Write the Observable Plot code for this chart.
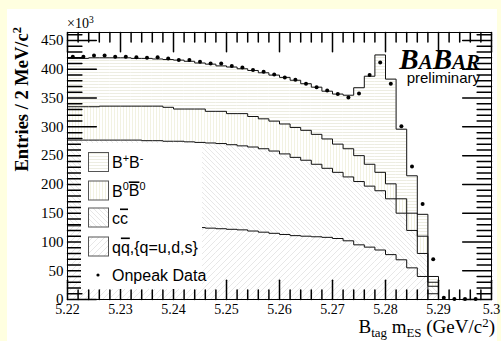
<!DOCTYPE html>
<html><head><meta charset="utf-8">
<script src="https://cdn.jsdelivr.net/npm/d3@7"></script>
<script src="https://cdn.jsdelivr.net/npm/@observablehq/plot@0.6"></script>
<style>
html,body{margin:0;padding:0;background:#ffffe0;}
#wrap{position:relative;width:501px;height:341px;overflow:hidden;}
#paper{position:absolute;left:7px;top:9px;width:490px;height:332px;background:#fff;}
#chart{position:absolute;left:0;top:0;}
</style></head><body><div id="wrap"><div id="paper"></div><div id="chart"></div></div>
<script>
// ---- data (2 MeV bins, lower edges) ----
const binLow = [5.220,5.222,5.224,5.226,5.228,5.230,5.232,5.234,5.236,5.238,
                5.240,5.242,5.244,5.246,5.248,5.250,5.252,5.254,5.256,5.258,
                5.260,5.262,5.264,5.266,5.268,5.270,5.272,5.274,5.276,5.278,
                5.280,5.282,5.284,5.286,5.288,5.290,5.292,5.294,5.296,5.298];
const xEnd = 5.30;
const qqbar = [128,128,128,127,127,127,127,126,126,126, 126,126,125,124,123,122,121,119,117,115,
               113,111,110,109,108,106,102,95,91,86, 78,69,55,40,10,0,0,0,0,0];
const ccbar = [149,149,149,150,150,150,150,150,150,149, 149,148,148,148,148,147,146,146,145,143,
               140,136,132,126,120,115,111,110,106,103, 97,81,65,40,13,0,0,0,0,0];
const b0b0 =  [58,58,58,59,59,59,59,60,60,59, 56,57,58,55,56,54,56,53,52,52,
               52,52,52,52,51,49,49,45,38,32, 26,25,30,30,7,0,0,0,0,0];
const bpbm =  [84,84,85,84,84,84,83,83,82,83, 85,83,80,82,79,81,78,80,80,80,
               81,82,81,82,83,87,93,118,153,204, 182,121,65,38,10,0,0,0,0,0];
const onpeak = [422,422,424,424,422,422,421,420,421,419, 416,416,413,410,410,406,403,399,396,391,
                386,382,375,369,363,357,351,358,390,412, 375,301,231,166,70,3,1,1,1,0];
const xTickValues = [5.22,5.23,5.24,5.25,5.26,5.27,5.28,5.29,5.30];
const xTickLabels = ["5.22","5.23","5.24","5.25","5.26","5.27","5.28","5.29","5.3"];
const yTickValues = [0,50,100,150,200,250,300,350,400,450];
const yTickLabels = ["0","50","100","150","200","250","300","350","400","450"];
const yMax = 464;

// ---- build stacks ----
const binHigh = binLow.slice(1).concat([xEnd]);
const layers = [["qq", qqbar], ["cc", ccbar], ["b0", b0b0], ["bpm", bpbm]];
const cum = [];
let base = binLow.map(() => 0);
const bands = {};
for (const [k, arr] of layers) {
  const top = base.map((b, i) => b + arr[i]);
  bands[k] = binLow.map((x, i) => ({x1: x, x2: binHigh[i], y1: base[i], y2: top[i]}));
  cum.push(top);
  base = top;
}
const stepPts = (arr) => binLow.map((x, i) => ({x, y: arr[i]})).concat([{x: xEnd, y: arr[arr.length - 1]}]);

const xMinor = d3.range(0, 41).map(i => 5.22 + i * 0.002);
const yMinor = d3.range(0, 47).map(i => i * 10);
const tickShape = {draw(ctx, l) { ctx.moveTo(0, 0); ctx.lineTo(0, -l); }};
const isMajorX = d => Math.abs(Math.round(d * 100) - d * 100) < 1e-6;
const isMajorY = d => d % 50 === 0;
const tickLenX = d => isMajorX(d) ? 8 : 4;
const tickLenY = d => isMajorY(d) ? 12 : 6;

const xLab = new Map(xTickValues.map((v, i) => [v, xTickLabels[i]]));
const yLab = new Map(yTickValues.map((v, i) => [v, yTickLabels[i]]));

const plot = Plot.plot({
  width: 501, height: 341,
  marginLeft: 67, marginRight: 10, marginTop: 32, marginBottom: 42,
  style: {background: "transparent", fontFamily: "'Liberation Serif', serif", fontSize: "15px", color: "#000"},
  x: {domain: [5.22, 5.30], axis: null},
  y: {domain: [0, yMax], axis: null},
  marks: [
    Plot.rect(bands.qq, {x1: "x1", x2: "x2", y1: "y1", y2: "y2", fill: "url(#p_qq)"}),
    Plot.rect(bands.cc, {x1: "x1", x2: "x2", y1: "y1", y2: "y2", fill: "url(#p_cc)"}),
    Plot.rect(bands.b0, {x1: "x1", x2: "x2", y1: "y1", y2: "y2", fill: "url(#p_b0)"}),
    Plot.rect(bands.bpm, {x1: "x1", x2: "x2", y1: "y1", y2: "y2", fill: "url(#p_bpm)"}),
    ...cum.map(arr => Plot.line(stepPts(arr), {x: "x", y: "y", curve: "step-after", stroke: "#111", strokeWidth: 1})),
    Plot.dot(binLow.map((x, i) => ({x: (x + binHigh[i]) / 2, y: onpeak[i]})).filter(d => d.y > 0),
      {x: "x", y: "y", r: 2, fill: "#000", stroke: null}),
    Plot.frame({stroke: "#000", strokeWidth: 1}),
    // ticks (inward, all four sides)
    Plot.vector(xMinor, {x: d => d, y: () => 0, length: tickLenX, rotate: 0, anchor: "start", shape: tickShape, stroke: "#000"}),
    Plot.vector(xMinor, {x: d => d, y: () => yMax, length: tickLenX, rotate: 180, anchor: "start", shape: tickShape, stroke: "#000"}),
    Plot.vector(yMinor, {y: d => d, x: () => 5.22, length: tickLenY, rotate: 90, anchor: "start", shape: tickShape, stroke: "#000"}),
    Plot.vector(yMinor, {y: d => d, x: () => 5.30, length: tickLenY, rotate: 270, anchor: "start", shape: tickShape, stroke: "#000"}),
    Plot.axisX({ticks: xTickValues, tickFormat: d => xLab.get(d), tickSize: 0, tickPadding: 5, fontSize: 14, label: null}),
    Plot.axisY({ticks: yTickValues, tickFormat: d => yLab.get(d), tickSize: 0, tickPadding: 4, fontSize: 15, label: null})
  ]
});
document.getElementById("chart").appendChild(plot);

// ---- hatch patterns ----
const svg = d3.select(plot);
const defs = svg.insert("defs", ":first-child");
function pat(id, w, h, d, color, sw) {
  const p = defs.append("pattern").attr("id", id).attr("patternUnits", "userSpaceOnUse")
    .attr("width", w).attr("height", h);
  p.append("rect").attr("width", w).attr("height", h).attr("fill", "#fff");
  p.append("path").attr("d", d).attr("stroke", color).attr("stroke-width", sw).attr("fill", "none");
}
pat("p_bpm", 4, 3, "M0,0.5H4", "#ededE2", 1);
pat("p_b0", 3, 4, "M0.5,0V4", "#f2f2e2", 1);
pat("p_cc", 5, 5, "M0,0L5,5M-1,4L1,6M4,-1L6,1", "#dcdcdc", 0.7);
pat("p_qq", 6, 6, "M0,6L6,0M-1,1L1,-1M5,7L7,5", "#dcdcdc", 0.7);

// ---- rich text helper ----
function rich(g, x, y, parts, opts = {}) {
  const size = opts.size || 15;
  const supK = opts.supK || 0.38;
  const t = g.append("text").attr("x", x).attr("y", y)
    .attr("font-family", opts.family || "'Liberation Sans', sans-serif")
    .attr("font-size", size)
    .attr("text-anchor", opts.anchor || "start")
    .attr("fill", "#000");
  if (opts.weight) t.attr("font-weight", opts.weight);
  if (opts.style) t.attr("font-style", opts.style);
  if (opts.transform) t.attr("transform", opts.transform);
  for (const p of parts) {
    const s = t.append("tspan").text(p.t);
    if (p.sup) s.attr("dy", -size * supK).attr("font-size", size * 0.68);
    if (p.sub) s.attr("dy", size * 0.2).attr("font-size", size * 0.68);
    if (p.back) s.attr("dy", p.back);
    if (p.size) s.attr("font-size", p.size);
    if (p.over) s.style("text-decoration", "overline");
  }
  return t;
}
const g = svg.append("g");

// legend
const legendItems = [
  {pattern: "p_bpm", parts: [{t: "B"}, {t: "+", sup: true}, {t: "B", back: 6}, {t: "-", sup: true}]},
  {pattern: "p_b0", parts: [{t: "B"}, {t: "0", sup: true}, {t: "B", over: true, back: 6}, {t: "0", sup: true}]},
  {pattern: "p_cc", parts: [{t: "c"}, {t: "c", over: true}]},
  {pattern: "p_qq", parts: [{t: "q"}, {t: "q", over: true}, {t: ",{q=u,d,s}"}]},
  {dot: true, parts: [{t: "Onpeak Data"}]}
];
g.append("rect").attr("x", 81).attr("y", 143).attr("width", 121).attr("height", 146).attr("fill", "#fff");
const legY = [162, 190.5, 217.5, 246.5, 275];
legendItems.forEach((it, i) => {
  const cy = legY[i];
  if (it.dot) {
    g.append("circle").attr("cx", 98).attr("cy", cy).attr("r", 1.6).attr("fill", "#000");
  } else {
    g.append("rect").attr("x", 88.5).attr("y", cy - 9.5).attr("width", 20).attr("height", 19)
      .attr("fill", `url(#${it.pattern})`).attr("stroke", "#555").attr("stroke-width", 1);
  }
  rich(g, 112, cy + 6, it.parts, {size: 16});
});

// titles & annotations
rich(g, 67, 28, [{t: "×10"}, {t: "3", sup: true}], {family: "'Liberation Serif', serif", size: 14});
rich(g, 480, 69, [{t: "B", size: 29}, {t: "A", size: 21}, {t: "B", size: 29}, {t: "AR", size: 21}],
  {family: "'Liberation Serif', serif", size: 29, anchor: "end", style: "italic", weight: "bold"});
rich(g, 480, 83, [{t: "preliminary"}], {size: 15, anchor: "end"});
rich(g, 0, 0, [{t: "Entries / 2 MeV/c"}, {t: "2", sup: true}],
  {family: "'Liberation Serif', serif", size: 18.5, weight: "bold", anchor: "end", transform: "translate(28,27) rotate(-90)"});
rich(g, 495, 333, [{t: "B"}, {t: "tag", sub: true}, {t: " m", back: -3.8}, {t: "ES", sub: true}, {t: " (GeV/c", back: -3.8}, {t: "2", sup: true}, {t: ")", back: 5.7}],
  {family: "'Liberation Serif', serif", size: 19, anchor: "end", supK: 0.3});
</script></body></html>
